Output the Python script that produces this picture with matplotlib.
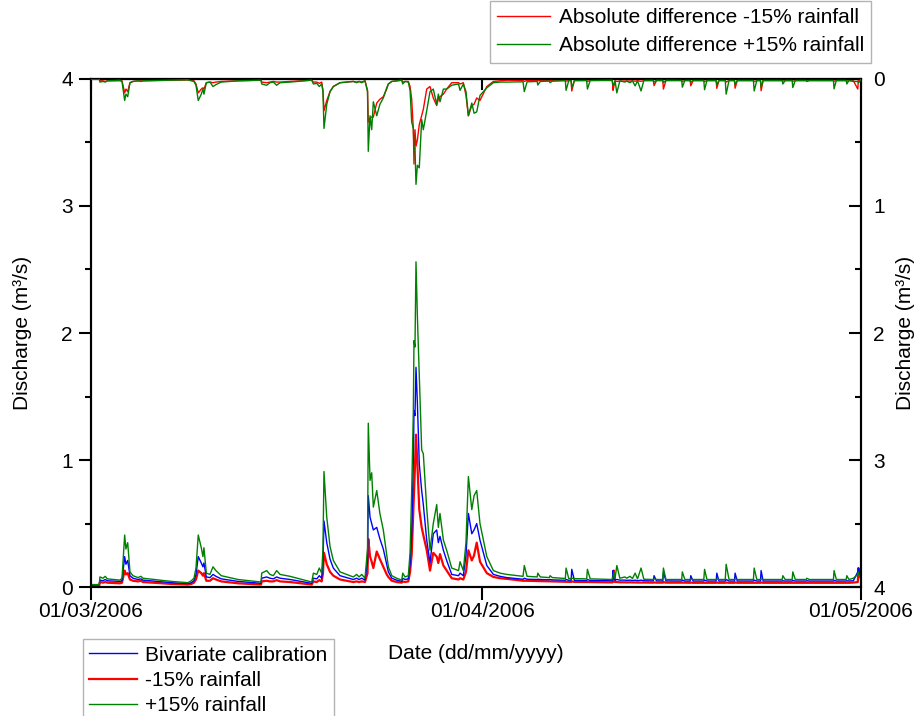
import matplotlib
matplotlib.use("Agg")
import matplotlib.pyplot as plt
import matplotlib.dates as mdates
from matplotlib.ticker import MultipleLocator
from matplotlib.lines import Line2D
import numpy as np
import pandas as pd

plt.rcParams['font.family'] = ['Liberation Sans', 'DejaVu Sans']

start_date = "2006-03-01"
end_date = "2006-05-01"

# time (days since 01/03/2006)
t_days = [0.00, 0.66, 0.71, 0.95, 1.13, 1.30, 2.30, 2.46, 2.67, 2.77,
          2.91, 3.09, 3.33, 3.72, 3.96, 4.12, 6.36, 7.69, 7.95, 8.16,
          8.32, 8.50, 8.74, 8.87, 8.95, 9.14, 9.43, 9.67, 9.90, 10.32,
          11.65, 13.47, 13.53, 13.92, 14.18, 14.45, 14.71, 14.98, 15.77, 17.49,
          17.62, 17.89, 18.09, 18.28, 18.38, 18.46, 18.68, 18.94, 19.20, 19.73,
          20.78, 21.05, 21.24, 21.45, 21.71, 21.91, 21.97, 22.11, 22.24, 22.37,
          22.64, 22.89, 23.16, 23.43, 23.56, 23.83, 24.22, 24.62, 24.70, 24.88,
          25.14, 25.28, 25.41, 25.54, 25.59, 25.67, 25.75, 25.86, 26.01, 26.20,
          26.33, 26.60, 26.86, 27.12, 27.39, 27.52, 27.65, 27.92, 28.18, 28.58,
          29.12, 29.24, 29.50, 29.71, 29.90, 30.17, 30.35, 30.56, 30.82, 31.36,
          31.88, 32.41, 32.94, 34.23, 34.33, 34.55, 35.35, 35.40, 35.60, 36.32,
          36.37, 36.55, 37.58, 37.64, 37.85, 38.04, 38.09, 38.30, 39.27, 39.33,
          39.55, 41.30, 41.36, 41.42, 41.52, 41.66, 41.90, 42.30, 42.45, 42.70,
          42.90, 43.11, 43.30, 43.58, 43.80, 44.55, 44.61, 44.80, 45.30, 45.35,
          45.55, 46.80, 46.85, 47.05, 47.47, 47.52, 47.70, 48.55, 48.61, 48.80,
          49.53, 49.58, 49.75, 50.25, 50.32, 50.55, 50.98, 51.03, 51.20, 52.48,
          52.54, 52.75, 53.04, 53.09, 53.25, 54.76, 54.81, 55.00, 55.55, 55.60,
          55.80, 56.66, 56.71, 56.90, 58.82, 58.87, 59.05, 59.83, 59.88, 60.05,
          60.40, 60.75, 60.80, 60.90, 61.00]

plus15 = [0.020, 0.020, 0.080, 0.070, 0.085, 0.065, 0.055, 0.070, 0.410, 0.300,
          0.350, 0.120, 0.090, 0.075, 0.085, 0.070, 0.045, 0.035, 0.050, 0.070,
          0.150, 0.410, 0.310, 0.240, 0.310, 0.110, 0.100, 0.160, 0.130, 0.090,
          0.060, 0.040, 0.110, 0.130, 0.100, 0.090, 0.130, 0.100, 0.085, 0.040,
          0.110, 0.100, 0.150, 0.110, 0.300, 0.910, 0.550, 0.320, 0.210, 0.120,
          0.080, 0.100, 0.080, 0.100, 0.070, 0.300, 1.290, 0.840, 0.900, 0.630,
          0.760, 0.580, 0.450, 0.250, 0.160, 0.090, 0.070, 0.055, 0.110, 0.080,
          0.090, 0.270, 0.760, 1.390, 1.940, 1.890, 2.560, 2.130, 1.670, 1.080,
          1.050, 0.620, 0.290, 0.500, 0.650, 0.470, 0.580, 0.370, 0.290, 0.150,
          0.130, 0.200, 0.130, 0.350, 0.870, 0.610, 0.720, 0.760, 0.500, 0.240,
          0.130, 0.110, 0.100, 0.085, 0.170, 0.085, 0.080, 0.110, 0.080, 0.075,
          0.090, 0.075, 0.068, 0.150, 0.068, 0.067, 0.070, 0.067, 0.065, 0.140,
          0.065, 0.060, 0.080, 0.120, 0.070, 0.170, 0.070, 0.080, 0.070, 0.085,
          0.068, 0.110, 0.065, 0.150, 0.062, 0.060, 0.065, 0.060, 0.060, 0.150,
          0.060, 0.060, 0.120, 0.060, 0.060, 0.065, 0.060, 0.060, 0.140, 0.060,
          0.060, 0.065, 0.060, 0.060, 0.180, 0.060, 0.060, 0.065, 0.060, 0.060,
          0.150, 0.060, 0.060, 0.065, 0.060, 0.060, 0.090, 0.060, 0.060, 0.120,
          0.060, 0.060, 0.070, 0.060, 0.060, 0.130, 0.060, 0.060, 0.090, 0.060,
          0.070, 0.100, 0.120, 0.080, 0.070]

bivariate = [0.018, 0.018, 0.055, 0.050, 0.060, 0.050, 0.045, 0.050, 0.240, 0.180,
             0.210, 0.090, 0.070, 0.060, 0.065, 0.055, 0.035, 0.028, 0.035, 0.050,
             0.100, 0.240, 0.190, 0.160, 0.190, 0.080, 0.075, 0.100, 0.085, 0.065,
             0.045, 0.030, 0.070, 0.080, 0.070, 0.065, 0.080, 0.070, 0.060, 0.030,
             0.070, 0.065, 0.090, 0.070, 0.200, 0.520, 0.350, 0.220, 0.150, 0.090,
             0.060, 0.070, 0.060, 0.070, 0.055, 0.200, 0.720, 0.550, 0.500, 0.450,
             0.470, 0.380, 0.300, 0.180, 0.120, 0.070, 0.055, 0.045, 0.070, 0.060,
             0.065, 0.180, 0.420, 1.000, 1.390, 1.350, 1.730, 1.450, 0.970, 0.760,
             0.650, 0.370, 0.190, 0.420, 0.450, 0.350, 0.400, 0.290, 0.210, 0.100,
             0.090, 0.110, 0.090, 0.250, 0.580, 0.420, 0.450, 0.500, 0.370, 0.170,
             0.100, 0.085, 0.075, 0.062, 0.070, 0.062, 0.060, 0.062, 0.060, 0.058,
             0.060, 0.057, 0.054, 0.060, 0.054, 0.054, 0.140, 0.053, 0.052, 0.060,
             0.052, 0.050, 0.130, 0.070, 0.055, 0.060, 0.055, 0.055, 0.053, 0.055,
             0.052, 0.055, 0.050, 0.055, 0.050, 0.049, 0.090, 0.049, 0.049, 0.120,
             0.049, 0.048, 0.055, 0.048, 0.048, 0.090, 0.048, 0.048, 0.055, 0.048,
             0.048, 0.110, 0.048, 0.048, 0.060, 0.048, 0.048, 0.110, 0.048, 0.048,
             0.055, 0.048, 0.048, 0.130, 0.048, 0.048, 0.050, 0.048, 0.048, 0.052,
             0.048, 0.048, 0.050, 0.048, 0.048, 0.052, 0.048, 0.048, 0.050, 0.048,
             0.050, 0.120, 0.150, 0.100, 0.070]

minus15 = [0.015, 0.015, 0.040, 0.035, 0.040, 0.035, 0.030, 0.035, 0.130, 0.100,
           0.110, 0.060, 0.050, 0.045, 0.050, 0.040, 0.025, 0.020, 0.025, 0.035,
           0.060, 0.130, 0.110, 0.090, 0.110, 0.050, 0.050, 0.070, 0.060, 0.045,
           0.030, 0.020, 0.045, 0.050, 0.045, 0.045, 0.055, 0.045, 0.040, 0.020,
           0.045, 0.040, 0.055, 0.045, 0.110, 0.270, 0.180, 0.120, 0.090, 0.060,
           0.040, 0.045, 0.040, 0.045, 0.040, 0.110, 0.380, 0.240, 0.200, 0.150,
           0.280, 0.220, 0.160, 0.100, 0.080, 0.050, 0.040, 0.035, 0.045, 0.040,
           0.045, 0.120, 0.260, 0.600, 0.720, 0.950, 1.200, 0.970, 0.610, 0.470,
           0.410, 0.290, 0.130, 0.270, 0.240, 0.190, 0.260, 0.170, 0.130, 0.070,
           0.060, 0.070, 0.060, 0.120, 0.290, 0.210, 0.250, 0.350, 0.200, 0.110,
           0.080, 0.070, 0.065, 0.050, 0.050, 0.050, 0.048, 0.048, 0.047, 0.045,
           0.045, 0.045, 0.042, 0.042, 0.042, 0.041, 0.045, 0.041, 0.040, 0.040,
           0.040, 0.037, 0.040, 0.130, 0.040, 0.040, 0.038, 0.038, 0.037, 0.038,
           0.037, 0.037, 0.036, 0.036, 0.036, 0.035, 0.037, 0.035, 0.035, 0.040,
           0.035, 0.035, 0.035, 0.035, 0.034, 0.036, 0.034, 0.034, 0.034, 0.034,
           0.034, 0.036, 0.034, 0.034, 0.036, 0.034, 0.034, 0.037, 0.034, 0.034,
           0.034, 0.034, 0.034, 0.037, 0.034, 0.034, 0.034, 0.034, 0.034, 0.034,
           0.034, 0.034, 0.034, 0.034, 0.034, 0.034, 0.034, 0.034, 0.034, 0.034,
           0.036, 0.040, 0.150, 0.110, 0.060]

times = pd.Timestamp(start_date) + pd.to_timedelta(np.array(t_days), unit="D")
b = np.array(bivariate)
r = np.array(minus15)
g = np.array(plus15)
diff_minus = np.abs(b - r)
diff_plus = np.abs(g - b)

BLUE = "#0000ff"
RED = "#ff0000"
GREEN = "#008000"
FS = 15

fig = plt.figure(figsize=(9.16, 7.16), dpi=100)
ax = fig.add_axes([0.0993, 0.180, 0.8406, 0.7098])
ax2 = ax.twinx()

ax.plot(times, b, color=BLUE, lw=1.0, zorder=3)
ax.plot(times, r, color=RED, lw=1.6, zorder=2)
ax.plot(times, g, color=GREEN, lw=1.0, zorder=4)

ax2.plot(times, diff_minus, color=RED, lw=1.0, zorder=2)
ax2.plot(times, diff_plus, color=GREEN, lw=1.0, zorder=3)

ax.set_xlim(pd.Timestamp(start_date), pd.Timestamp(end_date))
ax.set_ylim(0, 4)
ax2.set_ylim(4, 0)

ax.xaxis.set_major_locator(mdates.MonthLocator())
ax.xaxis.set_major_formatter(mdates.DateFormatter("%d/%m/%Y"))
ax.yaxis.set_major_locator(MultipleLocator(1))
ax.yaxis.set_minor_locator(MultipleLocator(0.5))
ax2.yaxis.set_major_locator(MultipleLocator(1))
ax2.yaxis.set_minor_locator(MultipleLocator(0.5))

ax.tick_params(axis="both", which="major", direction="out", length=9, width=1.5,
               labelsize=FS, pad=4)
ax.tick_params(axis="y", which="minor", direction="out", length=4, width=1.5)
ax.tick_params(axis="x", which="major", pad=2)
ax2.tick_params(axis="y", which="major", direction="in", length=9, width=1.5,
                labelsize=FS, pad=9)
ax2.tick_params(axis="y", which="minor", direction="in", length=4, width=1.5)

top = ax.secondary_xaxis("top")
top.xaxis.set_major_locator(mdates.MonthLocator())
top.tick_params(axis="x", direction="in", length=8, width=1.5, labeltop=False)
top.spines["top"].set_linewidth(1.5)

for a in (ax, ax2):
    for s in a.spines.values():
        s.set_linewidth(1.5)
        s.set_color("black")

ax.set_xlabel("Date (dd/mm/yyyy)", fontsize=FS, labelpad=16)
ax.set_ylabel("Discharge (m³/s)", fontsize=FS, labelpad=21)
ax2.set_ylabel("Discharge (m³/s)", fontsize=FS, labelpad=8)

h_top = [Line2D([], [], color=RED, lw=1.0), Line2D([], [], color=GREEN, lw=1.0)]
leg1 = fig.legend(h_top, ["Absolute difference -15% rainfall",
                          "Absolute difference +15% rainfall"],
                  loc="upper right", bbox_to_anchor=(0.951, 0.999),
                  fontsize=FS, frameon=True, fancybox=False, handlelength=2.55,
                  handletextpad=0.4, borderpad=0.35, labelspacing=0.45,
                  borderaxespad=0)
leg1.get_frame().set_edgecolor("#a0a0a0")
leg1.get_frame().set_linewidth(1.0)

h_bot = [Line2D([], [], color=BLUE, lw=1.0), Line2D([], [], color=RED, lw=1.6),
         Line2D([], [], color=GREEN, lw=1.0)]
leg2 = fig.legend(h_bot, ["Bivariate calibration", "-15% rainfall", "+15% rainfall"],
                  loc="upper left", bbox_to_anchor=(0.0906, 0.107),
                  fontsize=FS, frameon=True, fancybox=False, handlelength=2.3,
                  handletextpad=0.4, borderpad=0.3, labelspacing=0.3,
                  borderaxespad=0)
leg2.get_frame().set_edgecolor("#a0a0a0")
leg2.get_frame().set_linewidth(1.0)

fig.savefig("out.png", dpi=100)
